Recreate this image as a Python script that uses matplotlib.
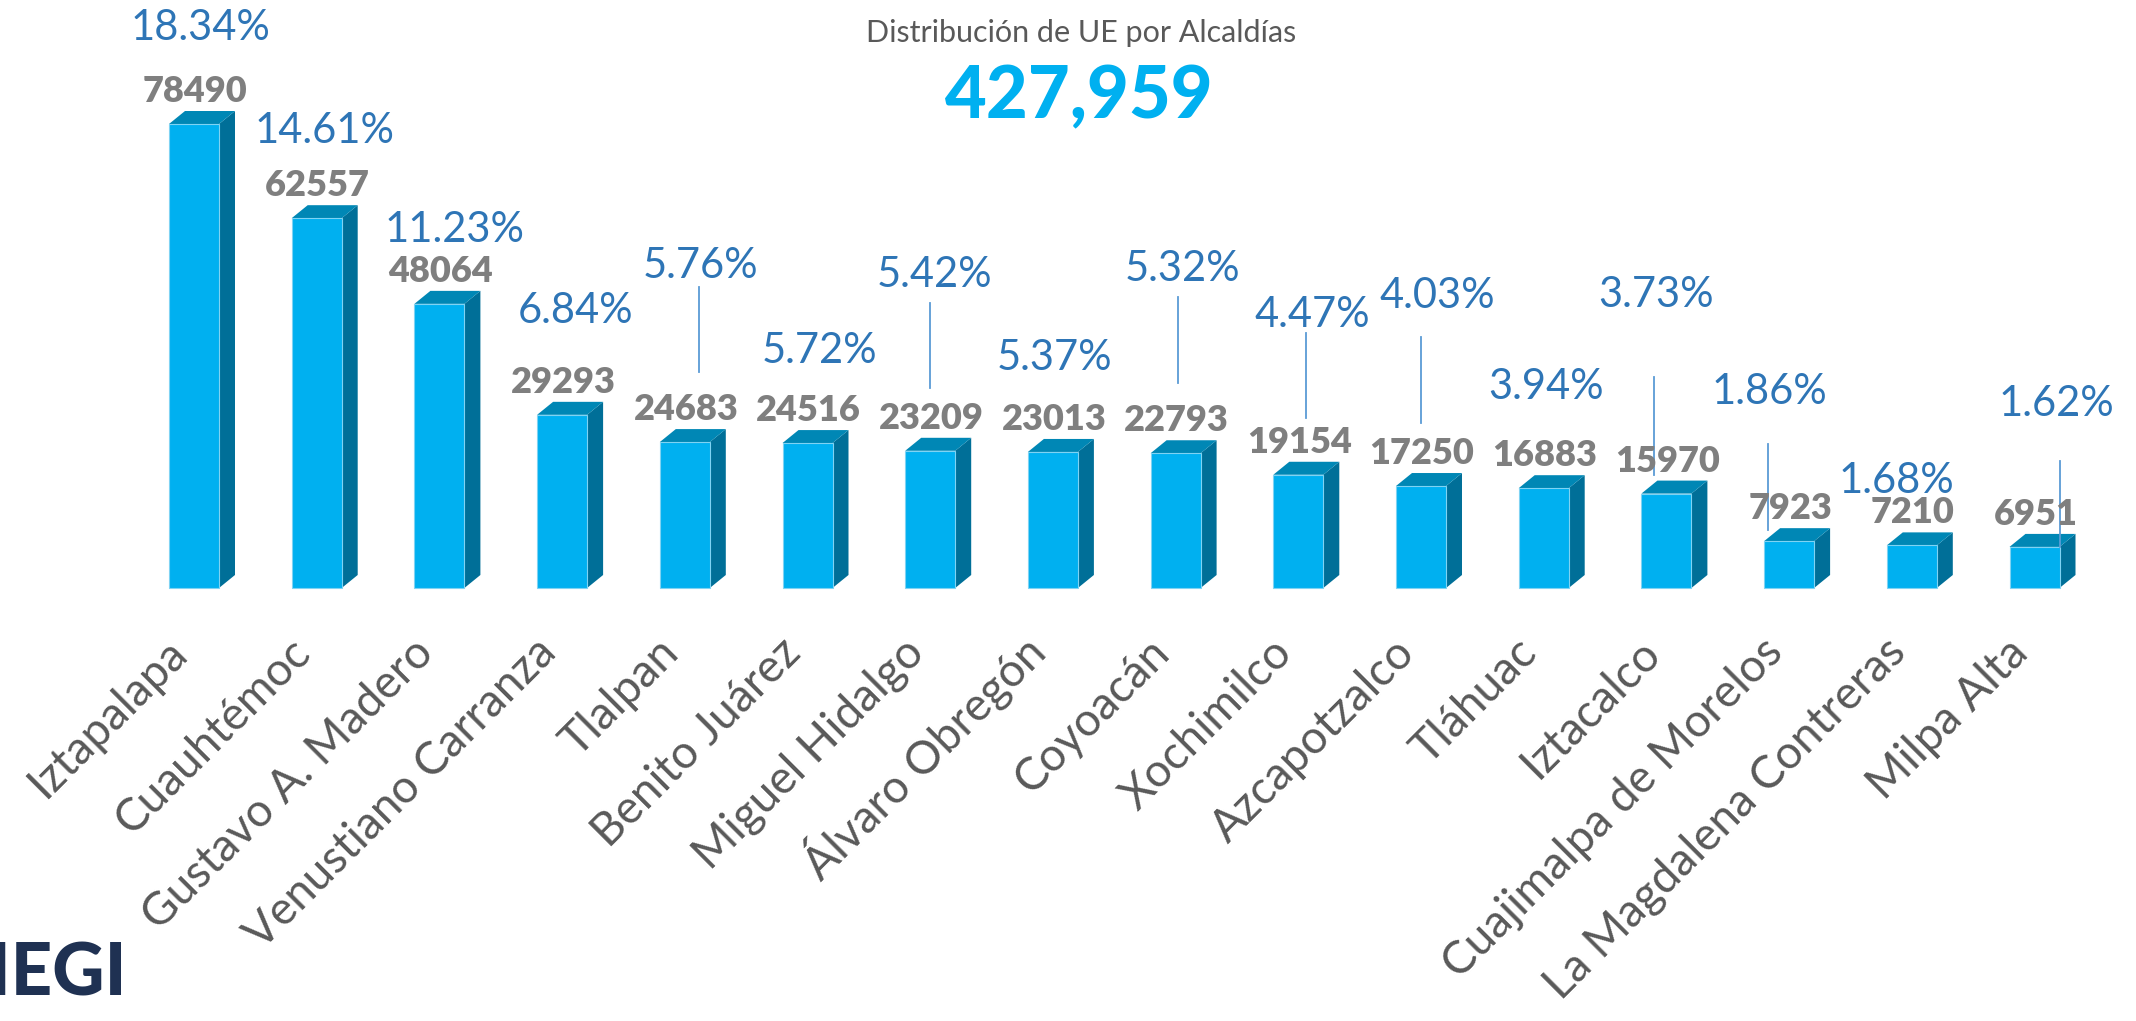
import matplotlib.pyplot as plt
from matplotlib.patches import Polygon

plt.rcParams['font.family'] = ['Lato', 'DejaVu Sans']

alcaldias = ['Iztapalapa', 'Cuauhtémoc', 'Gustavo A. Madero', 'Venustiano Carranza',
             'Tlalpan', 'Benito Juárez', 'Miguel Hidalgo', 'Álvaro Obregón', 'Coyoacán',
             'Xochimilco', 'Azcapotzalco', 'Tláhuac', 'Iztacalco', 'Cuajimalpa de Morelos',
             'La Magdalena Contreras', 'Milpa Alta']
unidades = [78490, 62557, 48064, 29293, 24683, 24516, 23209, 23013, 22793,
            19154, 17250, 16883, 15970, 7923, 7210, 6951]
porcentajes = [18.34, 14.61, 11.23, 6.84, 5.76, 5.72, 5.42, 5.37, 5.32,
               4.47, 4.03, 3.94, 3.73, 1.86, 1.68, 1.62]
total = 427959

# posiciones de las etiquetas de porcentaje (px respecto al centro / tope de la barra)
pct_off = [(6, 100), (8, 91), (15, 78), (13, 108), (16, 180), (12, 96), (4, 180), (2, 98),
           (7, 188), (14, 164), (16, 194), (2, 105), (-10, 203), (-20, 153), (-15, 68), (22, 147)]
# lineas guia: indice -> (dx, y1, y2) en px
guias = {4: (14, 155, 70), 6: (0, 148, 63), 8: (2, 156, 70), 9: (8, 142, 57),
         10: (0, 149, 63), 12: (-12, 117, 19), 13: (-21, 97, 11), 15: (25, 86, 0)}

W, H = 2136, 1021
fig = plt.figure(figsize=(W / 100, H / 100), dpi=100)
ax = fig.add_axes([0, 0, 1, 1])
ax.axis('off')

step = 122.7          # px entre barras
first = 194           # px centro de la primera barra
base = 588            # px desde arriba
ppu = 464 / 78490     # px por unidad
ax.set_xlim(-first / step, (W - first) / step)
ax.set_ylim(-(H - base) / ppu, base / ppu)


def dx(px):
    return px / step


def dy(px):
    return px / ppu


x = list(range(len(unidades)))
bw = dx(50)
ax.bar(x, unidades, width=bw, color='#00B0F0', edgecolor='#7fd3f3', linewidth=0.8, zorder=3)
for i, v in zip(x, unidades):
    l, r = i - bw / 2, i + bw / 2
    side = [(r, 0), (r + dx(16), dy(13)), (r + dx(16), v + dy(13)), (r, v)]
    top = [(l, v), (l + dx(16), v + dy(13)), (r + dx(16), v + dy(13)), (r, v)]
    ax.add_patch(Polygon(side, closed=True, facecolor='#006F98', edgecolor='none', zorder=2))
    ax.add_patch(Polygon(top, closed=True, facecolor='#0087B5', edgecolor='none', zorder=2))

    ax.text(i + dx(1), v + dy(22), str(v), ha='center', va='baseline',
            fontsize=26, fontweight='heavy', color='#7F7F7F', zorder=5)

    ox, oy = pct_off[i]
    ax.text(i + dx(ox), v + dy(oy - 16), f'{porcentajes[i]:.2f}%', ha='center', va='baseline',
            fontsize=30, color='#2E75B6', zorder=5)

    ax.text(i + dx(-4), dy(-67), alcaldias[i], rotation=45, rotation_mode='anchor',
            ha='right', va='baseline', fontsize=33, fontweight='normal', color='#595959')

for i, (lx, y1, y2) in guias.items():
    v = unidades[i]
    ax.plot([i + dx(lx)] * 2, [v + dy(y1), v + dy(y2)], color='#5B9BD5', lw=1.3, zorder=4)

fig.text(1081 / W, 1 - 42 / H, 'Distribución de UE por Alcaldías', ha='center', va='baseline',
         fontsize=22, color='#595959')
fig.text(1079 / W, 1 - 118 / H, f'{total:,}', ha='center', va='baseline',
         fontsize=52, fontweight='black', color='#00B0F0')
fig.text(127 / W, 1 - 995 / H, 'INEGI', ha='right', va='baseline',
         fontsize=52, fontweight='black', color='#1F3152')

fig.savefig('out.png', dpi=100)
